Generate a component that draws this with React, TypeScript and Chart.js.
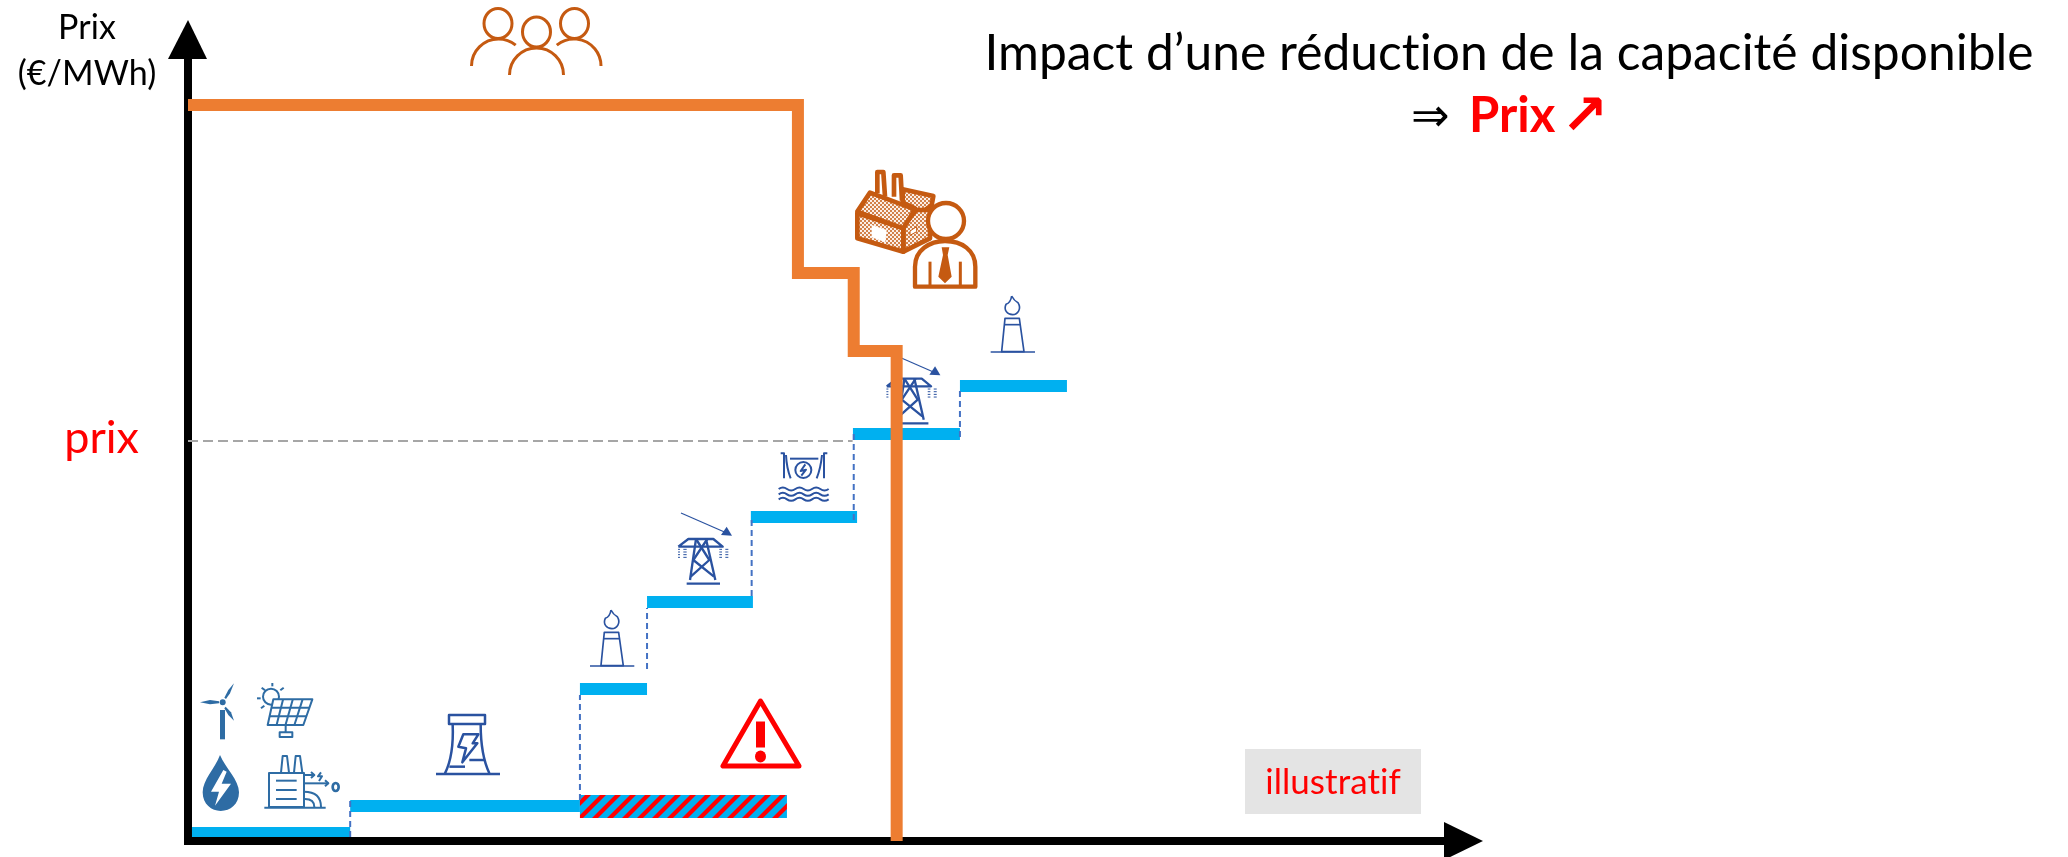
import React, { useEffect, useRef } from "react";
import { Chart, registerables } from "chart.js";

Chart.register(...registerables);

// Data (quantity on x, price on y)
const supplyStart = [2.5, 102, 246.5, 288.7, 354, 418.2, 485.5];
const supplyEnd = [102, 246.5, 288.7, 355.3, 420.8, 485.5, 552.8];
const supplyPrice = [4.5, 17.5, 76, 119.5, 162, 203.5, 227.5];
const demandQty = [0, 383.6, 383.6, 418.7, 418.7, 445.7, 445.7];
const demandPrice = [368, 368, 284, 284, 245, 245, 0];
const reducedQty = [246.5, 376.7];
const reducedPrice = [17.25, 17.25];
const guideQty = [102, 246.5, 288.7, 354.5, 418.7, 485.5];
const guideLow = [2, 20.5, 86, 122.5, 160.5, 202];
const guideHigh = [20.5, 73, 116.5, 162, 204, 227];
const marketPrice = 200;
const marketQty = 418;
const yTickLabel = "prix";
const yTitleLines = ["Prix", "(€/MWh)"];
const titleLine = "Impact d’une réduction de la capacité disponible";
const subArrow = "⇒";
const subWord = "Prix";
const subUp = "↗";
const noteLabel = "illustratif";

const BLUE = "#00B0F0";
const ORANGE = "#ED7D31";
const BROWN = "#C55A11";
const ICON_A = "#2E6CA4";
const ICON_B = "#2A52A0";
const FONT = "Lato";

type C = CanvasRenderingContext2D;

function hatchPattern(): CanvasPattern | string {
  const t = document.createElement("canvas");
  t.width = 15;
  t.height = 15;
  const c = t.getContext("2d");
  if (!c) return BLUE;
  c.fillStyle = BLUE;
  c.fillRect(0, 0, 15, 15);
  c.fillStyle = "#FF0000";
  for (const o of [-15, 0, 15]) {
    c.beginPath();
    c.moveTo(o, 15);
    c.lineTo(o + 6, 15);
    c.lineTo(o + 21, 0);
    c.lineTo(o + 15, 0);
    c.closePath();
    c.fill();
  }
  return c.createPattern(t, "repeat") || BLUE;
}

function dotPattern(c: C): CanvasPattern | string {
  const t = document.createElement("canvas");
  t.width = 4;
  t.height = 4;
  const p = t.getContext("2d");
  if (!p) return BROWN;
  p.fillStyle = "#D2814A";
  p.fillRect(0, 0, 4, 4);
  p.fillStyle = "#FBEFE8";
  p.fillRect(0, 0, 2, 2);
  p.fillRect(2, 2, 2, 2);
  return c.createPattern(t, "repeat") || BROWN;
}

function seg(c: C, pts: number[][], close = false) {
  c.beginPath();
  pts.forEach((p, i) => (i ? c.lineTo(p[0], p[1]) : c.moveTo(p[0], p[1])));
  if (close) c.closePath();
}
function stroke(c: C, pts: number[][], close = false) {
  seg(c, pts, close);
  c.stroke();
}
function fill(c: C, pts: number[][]) {
  seg(c, pts, true);
  c.fill();
}
function circle(c: C, x: number, y: number, r: number) {
  c.beginPath();
  c.arc(x, y, r, 0, Math.PI * 2);
  c.stroke();
}
function group(c: C, ox: number, oy: number, color: string, lw: number, fn: () => void) {
  c.save();
  c.translate(ox, oy);
  c.scale(1 / 3, 1 / 3);
  c.strokeStyle = color;
  c.fillStyle = color;
  c.lineWidth = lw;
  c.lineJoin = "round";
  fn();
  c.restore();
}

function renewables(c: C) {
  group(c, 195, 675, ICON_A, 6, () => {
    // wind
    fill(c, [[88, 68], [100, 45], [117, 25], [105, 55], [93, 72]]);
    fill(c, [[72, 79], [45, 75], [15, 82], [45, 88], [72, 85]]);
    fill(c, [[92, 95], [108, 112], [117, 137], [100, 120], [88, 100]]);
    fill(c, [[75, 105], [90, 105], [90, 193], [75, 193]]);
    c.beginPath();
    c.arc(83, 82, 9, 0, Math.PI * 2);
    c.fill();
    // sun + panel
    circle(c, 228, 65, 24);
    stroke(c, [[232, 24], [232, 34]]);
    stroke(c, [[200, 38], [210, 46]]);
    stroke(c, [[266, 38], [256, 46]]);
    stroke(c, [[186, 70], [197, 70]]);
    stroke(c, [[198, 100], [208, 92]]);
    c.fillStyle = "#fff";
    seg(c, [[235, 73], [352, 73], [325, 150], [218, 150]], true);
    c.fill();
    c.stroke();
    c.fillStyle = ICON_A;
    for (const f of [0.25, 0.5, 0.75]) {
      stroke(c, [[235 + 117 * f, 73], [218 + 107 * f, 150]]);
    }
    stroke(c, [[229, 98], [343, 98]]);
    stroke(c, [[224, 124], [334, 124]]);
    stroke(c, [[272, 150], [272, 172]]);
    c.strokeRect(254, 172, 38, 14);
    // drop
    c.beginPath();
    c.moveTo(75, 240);
    c.bezierCurveTo(60, 280, 23, 315, 23, 352);
    c.bezierCurveTo(23, 388, 50, 408, 77, 408);
    c.bezierCurveTo(106, 408, 132, 388, 132, 352);
    c.bezierCurveTo(132, 315, 92, 280, 75, 240);
    c.fill();
    c.fillStyle = "#fff";
    fill(c, [[85, 285], [48, 350], [72, 350], [60, 392], [108, 326], [80, 326], [95, 290]]);
    c.fillStyle = ICON_A;
    // factory
    c.strokeRect(222, 294, 105, 102);
    stroke(c, [[208, 398], [392, 398]]);
    stroke(c, [[258, 293], [263, 243], [276, 243], [282, 293]]);
    stroke(c, [[297, 293], [302, 243], [315, 243], [322, 293]]);
    stroke(c, [[243, 317], [305, 317]]);
    stroke(c, [[243, 345], [305, 345]]);
    stroke(c, [[243, 372], [305, 372]]);
    stroke(c, [[327, 300], [358, 300]]);
    stroke(c, [[348, 291], [358, 300], [348, 309]]);
    stroke(c, [[327, 325], [400, 325]]);
    stroke(c, [[390, 316], [400, 325], [390, 334]]);
    stroke(c, [[378, 292], [369, 304], [381, 304], [372, 318]]);
    c.lineWidth = 8;
    c.beginPath();
    c.ellipse(422, 336, 9, 12, 0, 0, Math.PI * 2);
    c.stroke();
    c.lineWidth = 6;
    c.beginPath();
    c.moveTo(327, 350);
    c.quadraticCurveTo(378, 350, 378, 396);
    c.stroke();
    c.beginPath();
    c.moveTo(330, 372);
    c.quadraticCurveTo(358, 372, 358, 396);
    c.stroke();
  });
}

function nuclear(c: C) {
  group(c, 430, 705, ICON_B, 7.5, () => {
    c.strokeRect(57, 30, 108, 27);
    c.beginPath();
    c.moveTo(68, 58);
    c.quadraticCurveTo(72, 150, 45, 205);
    c.stroke();
    c.beginPath();
    c.moveTo(152, 58);
    c.quadraticCurveTo(152, 150, 178, 205);
    c.stroke();
    stroke(c, [[18, 207], [210, 207]]);
    stroke(c, [[100, 88], [145, 88], [128, 115], [142, 115], [97, 172], [108, 130], [85, 125]], true);
    stroke(c, [[118, 165], [162, 165]]);
    stroke(c, [[58, 185], [105, 185]]);
  });
}

function gas(c: C, dx: number, dy: number) {
  group(c, 780 + dx, 150 + dy, ICON_B, 5, () => {
    c.beginPath();
    c.moveTo(695, 438);
    c.quadraticCurveTo(702, 452, 714, 458);
    c.bezierCurveTo(726, 478, 712, 494, 698, 494);
    c.bezierCurveTo(682, 494, 670, 480, 678, 463);
    c.quadraticCurveTo(692, 458, 695, 438);
    c.stroke();
    stroke(c, [[675, 505], [718, 505], [732, 605], [665, 605]], true);
    stroke(c, [[673, 524], [720, 524]]);
    stroke(c, [[632, 606], [765, 606]]);
  });
}

function pylon(c: C, dx: number, dy: number) {
  group(c, 670 + dx, 505 + dy, ICON_B, 7, () => {
    c.lineWidth = 3.5;
    stroke(c, [[33, 24], [165, 82]]);
    fill(c, [[186, 92], [153, 90], [170, 65]]);
    c.lineWidth = 7;
    stroke(c, [[25, 125], [55, 102], [130, 102], [158, 125], [25, 125]]);
    stroke(c, [[78, 102], [60, 225]]);
    stroke(c, [[108, 102], [136, 225]]);
    stroke(c, [[78, 102], [118, 165], [62, 215]]);
    stroke(c, [[112, 102], [70, 165], [132, 215]]);
    stroke(c, [[50, 236], [150, 236]]);
    c.lineWidth = 3;
    for (const y of [133, 141, 149, 157]) {
      stroke(c, [[24, y], [30, y]]);
      stroke(c, [[40, y], [50, y]]);
      stroke(c, [[148, y], [156, y]]);
      stroke(c, [[166, y], [175, y]]);
    }
  });
}

function hydro(c: C) {
  group(c, 770, 445, ICON_B, 6, () => {
    stroke(c, [[32, 25], [42, 25], [42, 100]]);
    stroke(c, [[172, 25], [162, 25], [162, 100]]);
    c.beginPath();
    c.moveTo(48, 30);
    c.quadraticCurveTo(50, 70, 62, 100);
    c.stroke();
    c.beginPath();
    c.moveTo(156, 30);
    c.quadraticCurveTo(152, 70, 140, 100);
    c.stroke();
    stroke(c, [[60, 41], [145, 41]]);
    circle(c, 100, 75, 24);
    stroke(c, [[106, 58], [92, 78], [108, 74], [94, 92]]);
    for (const y of [132, 148, 163]) {
      c.beginPath();
      c.moveTo(26, y);
      for (let i = 0; i < 6; i++) {
        const x0 = 26 + i * 25;
        c.quadraticCurveTo(x0 + 12.5, y + (i % 2 ? 9 : -9), x0 + 25, y);
      }
      c.stroke();
    }
  });
}

function people(c: C) {
  c.save();
  c.strokeStyle = BROWN;
  c.lineWidth = 3;
  const head = (x: number, y: number) => {
    c.beginPath();
    c.ellipse(x, y, 14, 15, 0, 0, Math.PI * 2);
    c.stroke();
  };
  head(498, 23.5);
  head(574.5, 23.5);
  head(536.5, 32);
  c.beginPath();
  c.ellipse(498.5, 66, 27, 27, 0, Math.PI, Math.PI * 1.72);
  c.stroke();
  c.beginPath();
  c.ellipse(574, 66, 27, 27, 0, Math.PI * 1.28, Math.PI * 2);
  c.stroke();
  c.beginPath();
  c.ellipse(536.5, 75, 27, 27, 0, Math.PI, Math.PI * 2);
  c.stroke();
  c.restore();
}

function businessman(c: C) {
  const dots = dotPattern(c);
  group(c, 850, 160, BROWN, 14, () => {
    // chimneys
    stroke(c, [[82, 100], [82, 36], [100, 36], [105, 110]]);
    stroke(c, [[132, 110], [132, 46], [152, 46], [156, 122]]);
    // back roof
    c.fillStyle = dots;
    seg(c, [[158, 88], [250, 108], [245, 135], [205, 165], [195, 145], [158, 128]], true);
    c.fill();
    c.stroke();
    // side wall
    seg(c, [[198, 150], [240, 150], [240, 235], [160, 275], [160, 200]], true);
    c.fill();
    c.stroke();
    // front wall
    seg(c, [[22, 160], [160, 205], [160, 275], [22, 235]], true);
    c.fill();
    c.stroke();
    // front roof
    seg(c, [[22, 155], [60, 98], [195, 148], [160, 205]], true);
    c.fill();
    c.stroke();
    c.fillStyle = "#fff";
    c.lineWidth = 3;
    seg(c, [[65, 195], [110, 210], [106, 247], [65, 232]], true);
    c.fill();
    seg(c, [[180, 213], [200, 200], [200, 215], [180, 226]], true);
    c.fill();
    c.stroke();
    c.lineWidth = 13;
    // man
    c.fillStyle = "#fff";
    c.beginPath();
    c.moveTo(195, 380);
    c.lineTo(195, 320);
    c.bezierCurveTo(195, 270, 240, 243, 285, 243);
    c.bezierCurveTo(335, 243, 376, 270, 376, 320);
    c.lineTo(376, 380);
    c.closePath();
    c.fill();
    c.stroke();
    c.beginPath();
    c.arc(288, 183, 54, 0, Math.PI * 2);
    c.fill();
    c.stroke();
    c.lineWidth = 9;
    stroke(c, [[240, 305], [240, 378]]);
    stroke(c, [[331, 305], [331, 378]]);
    c.fillStyle = BROWN;
    fill(c, [[275, 262], [298, 262], [293, 285], [305, 350], [285, 370], [265, 350], [279, 285]]);
  });
}

function warning(c: C) {
  c.save();
  c.strokeStyle = "#FF0000";
  c.fillStyle = "#FF0000";
  c.lineWidth = 5;
  c.lineJoin = "round";
  stroke(c, [[760.5, 701], [723, 766], [799, 766]], true);
  c.fillRect(756, 721.5, 9, 26);
  c.beginPath();
  c.ellipse(760.5, 756.5, 5.5, 6, 0, 0, Math.PI * 2);
  c.fill();
  c.restore();
}

const iconsPlugin = {
  id: "icons",
  beforeDatasetsDraw(chart: any) {
    const c: C = chart.ctx;
    renewables(c);
    nuclear(c);
    gas(c, -400.7, 314);
    gas(c, 0, 0);
    pylon(c, 0, 0);
    pylon(c, 208.4, -160.3);
    hydro(c);
    people(c);
    businessman(c);
    warning(c);
    // note box
    c.fillStyle = "#E4E4E4";
    c.fillRect(1245, 749, 176, 65);
  },
};

const arrowsAndText = {
  id: "arrowsAndText",
  afterDraw(chart: any) {
    const c: C = chart.ctx;
    const { left, bottom, top, right } = chart.chartArea;
    c.save();
    c.fillStyle = "#000";
    fill(c, [[left, 20], [left - 20, top + 18], [left + 19, top + 18]]);
    fill(c, [[right + 23, bottom], [right - 16, bottom - 19], [right - 16, bottom + 19]]);
    c.textBaseline = "alphabetic";
    c.textAlign = "center";
    c.fillStyle = "#000";
    (c as any).letterSpacing = "0.05px";
    c.font = `34px ${FONT}`;
    c.fillText(yTitleLines[0], 87, 39);
    c.fillText(yTitleLines[1], 87, 85);
    c.font = `49.7px ${FONT}`;
    c.fillText(titleLine, 1509, 70);
    c.textAlign = "left";
    c.font = `46px "DejaVu Sans"`;
    c.fillText(subArrow, 1411, 131);
    c.fillStyle = "#FF0000";
    c.font = `bold 49px ${FONT}`;
    c.fillText(subWord, 1469, 132);
    c.font = `bold 56px "DejaVu Sans"`;
    c.fillText(subUp, 1561, 134);
    c.textAlign = "center";
    c.font = `35px ${FONT}`;
    c.fillText(noteLabel, 1333, 794);
    c.restore();
  },
};

export default function App() {
  const ref = useRef<HTMLCanvasElement>(null);
  useEffect(() => {
    if (!ref.current) return;
    const lineBase = { pointRadius: 0, clip: false, tension: 0, borderCapStyle: "butt", borderJoinStyle: "miter", fill: false };
    const datasets: any[] = [
      {
        ...lineBase,
        label: "Demande",
        data: demandQty.map((x, i) => ({ x, y: demandPrice[i] })),
        borderColor: ORANGE,
        borderWidth: 12,
      },
      ...guideQty.map((x, i) => ({
        ...lineBase,
        label: `Palier ${i + 1}`,
        data: [{ x, y: guideLow[i] }, { x, y: guideHigh[i] }],
        borderColor: "#4472C4",
        borderWidth: 2,
        borderDash: [6, 4],
      })),
      {
        ...lineBase,
        label: "Prix",
        data: [{ x: 0, y: marketPrice }, { x: marketQty, y: marketPrice }],
        borderColor: "#A6A6A6",
        borderWidth: 2,
        borderDash: [10, 5],
      },
      {
        ...lineBase,
        label: "Capacité réduite",
        data: reducedQty.map((x, i) => ({ x, y: reducedPrice[i] })),
        borderColor: hatchPattern(),
        borderWidth: 23,
      },
      ...supplyStart.map((x, i) => ({
        ...lineBase,
        label: `Offre ${i + 1}`,
        data: [{ x, y: supplyPrice[i] }, { x: supplyEnd[i], y: supplyPrice[i] }],
        borderColor: BLUE,
        borderWidth: i === 0 ? 10 : 12,
      })),
    ];
    const chart = new Chart(ref.current, {
      type: "line",
      data: { datasets },
      plugins: [iconsPlugin, arrowsAndText],
      options: {
        responsive: false,
        animation: false,
        layout: { padding: { top: 41, right: 608, left: 0, bottom: 0 } },
        plugins: { legend: { display: false }, tooltip: { enabled: false }, title: { display: false } },
        scales: {
          x: {
            type: "linear",
            min: 0,
            max: 800,
            border: { display: true, color: "#000", width: 8 },
            grid: { display: false, drawOnChartArea: false, drawTicks: false },
            ticks: { display: false },
            afterFit: (s: any) => {
              s.height = 16;
              s.paddingLeft = 0;
              s.paddingRight = 0;
            },
          },
          y: {
            type: "linear",
            min: 0,
            max: 400,
            border: { display: true, color: "#000", width: 8 },
            grid: { display: false, drawOnChartArea: false, drawTicks: false },
            afterBuildTicks: (s: any) => {
              s.ticks = [{ value: marketPrice }];
            },
            ticks: {
              autoSkip: false,
              padding: 49,
              labelOffset: -3,
              color: "#FF0000",
              font: { family: FONT, size: 45 },
              callback: () => yTickLabel,
            },
            afterFit: (s: any) => {
              s.width = 188;
              s.paddingTop = 0;
              s.paddingBottom = 0;
            },
          },
        },
      },
    } as any);
    return () => chart.destroy();
  }, []);
  return (
    <canvas
      ref={ref}
      width={2068}
      height={857}
      style={{ position: "absolute", left: 0, top: 0, display: "block", width: 2068, height: 857 }}
    />
  );
}
